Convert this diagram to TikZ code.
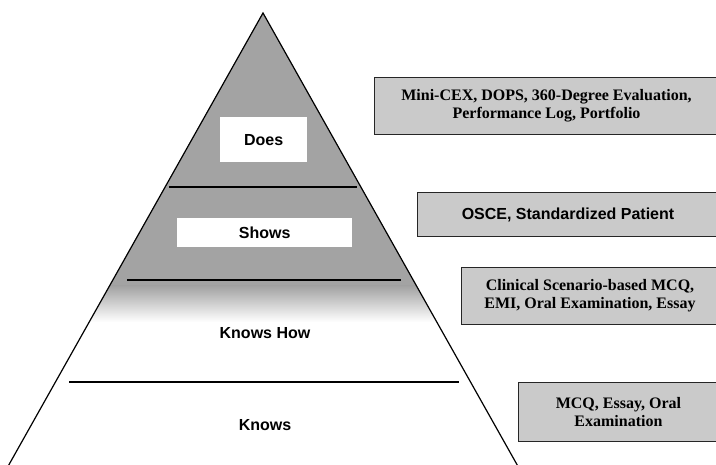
\documentclass[tikz,border=0pt]{standalone}
\usepackage{fontspec}
\setmainfont{Liberation Serif}
\newfontfamily\arialfont{Liberation Sans}
\definecolor{pyrgray}{HTML}{A3A3A3}
\definecolor{boxgray}{HTML}{CACACA}
\begin{document}
\begin{tikzpicture}[x=1pt,y=-1pt,
  level/.style={font=\arialfont\bfseries\fontsize{16}{18}\selectfont, inner sep=0pt},
  wbox/.style={fill=white, draw=none, inner sep=0pt, anchor=north west},
  rbox/.style={draw=black!85, line width=1pt, fill=boxgray, anchor=north west, align=center, inner sep=0pt},
  serif/.style={font=\bfseries\fontsize{16}{18}\selectfont},
  sans/.style={font=\arialfont\bfseries\fontsize{16}{18}\selectfont},
  divider/.style={line width=1.6pt, black}
]
\useasboundingbox (0,0) rectangle (716,465);
\clip (0,0) rectangle (716,465);
\fill[white] (0,0) rectangle (716,465);

% pyramid fill
\coordinate (apex) at (263,13);
\coordinate (bl) at (8.5,465.5);
\coordinate (br) at (517.5,465.5);
\begin{scope}
  \clip (apex) -- (br) -- (bl) -- cycle;
  \fill[pyrgray] (0,0) rectangle (716,286);
  \shade[top color=pyrgray, bottom color=white] (0,286) rectangle (716,322);
\end{scope}
\draw[line width=1.2pt, line join=miter] (bl) -- (apex) -- (br);

% dividers
\coordinate (d1l) at (169,187); \coordinate (d1r) at (357,187);
\coordinate (d2l) at (127,280); \coordinate (d2r) at (401,280);
\coordinate (d3l) at (69,382);  \coordinate (d3r) at (459,382);
\draw[divider] (d1l) -- (d1r);
\draw[divider] (d2l) -- (d2r);
\draw[divider] (d3l) -- (d3r);

% white label boxes
\node[wbox, minimum width=87pt, minimum height=45pt] (doesbox) at (220,117) {};
\node[wbox, minimum width=175pt, minimum height=29pt] (showsbox) at (177,218) {};
\node[level] (does) at (doesbox.center) {Does};
\node[level] (shows) at (showsbox.center) {Shows};
\node[level] (knowshow) at (265,333) {Knows How};
\node[level] (knows) at (265,425) {Knows};

% right boxes
\node[rbox, serif, minimum width=344pt, minimum height=57pt] (b1) at (374,77)
  {Mini-CEX, DOPS, 360-Degree Evaluation,\\Performance Log, Portfolio};
\node[rbox, sans, minimum width=301pt, minimum height=44pt] (b2) at (417,192)
  {OSCE, Standardized Patient};
\node[rbox, serif, minimum width=257pt, minimum height=57pt] (b3) at (461,267)
  {Clinical Scenario-based MCQ,\\EMI, Oral Examination, Essay};
\node[rbox, serif, minimum width=200pt, minimum height=59pt] (b4) at (518,382)
  {MCQ, Essay, Oral\\Examination};
\end{tikzpicture}
\end{document}
